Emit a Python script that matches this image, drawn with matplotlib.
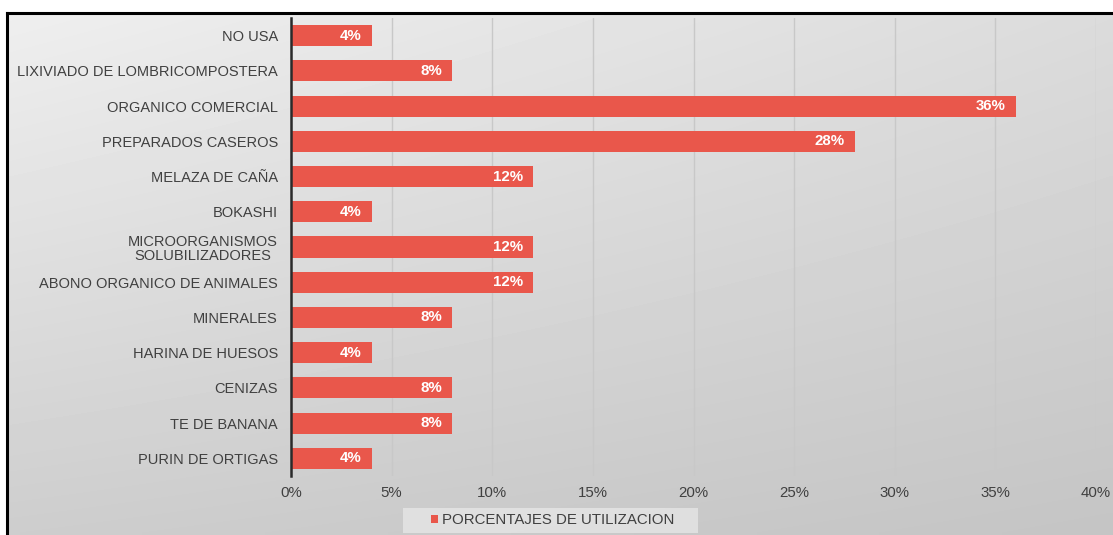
import numpy as np
import matplotlib.pyplot as plt
from matplotlib.patches import Rectangle
from matplotlib.ticker import FuncFormatter

# categories, top to bottom
categorias = ["NO USA", "LIXIVIADO DE LOMBRICOMPOSTERA", "ORGANICO COMERCIAL",
              "PREPARADOS CASEROS", "MELAZA DE CAÑA", "BOKASHI",
              "MICROORGANISMOS\nSOLUBILIZADORES", "ABONO ORGANICO DE ANIMALES",
              "MINERALES", "HARINA DE HUESOS", "CENIZAS", "TE DE BANANA",
              "PURIN DE ORTIGAS"]
porcentajes = [4, 8, 36, 28, 12, 4, 12, 12, 8, 4, 8, 8, 4]
ticks = [0, 5, 10, 15, 20, 25, 30, 35, 40]
serie = "PORCENTAJES DE UTILIZACION"

rojo = "#E9574B"
gris_texto = "#404040"
plt.rcParams['font.family'] = ['Liberation Sans', 'DejaVu Sans']

W, H = 1113, 535
fig = plt.figure(figsize=(W / 100, H / 100), dpi=100)

# gray gradient background inside the frame
bg = fig.add_axes([7 / W, 0, 1 - 7 / W, 1 - 13 / H])
xx, yy = np.meshgrid(np.linspace(0, 1, 200), np.linspace(0, 1, 100))
shade = 0.935 - 0.075 * xx - 0.13 * yy + 0.04 * xx * yy
bg.imshow(shade, cmap='gray', vmin=0, vmax=1, aspect='auto',
          extent=[0, 1, 1, 0], interpolation='bilinear')
bg.set_xlim(0, 1)
bg.set_ylim(1, 0)
bg.set_xticks([])
bg.set_yticks([])
for s in ['right', 'bottom']:
    bg.spines[s].set_visible(False)
for s in ['left', 'top']:
    bg.spines[s].set_linewidth(2.2)
    bg.spines[s].set_color('black')

ax = fig.add_axes([291 / W, 1 - 476 / H, (1096 - 291) / W, (476 - 18) / H])
ax.patch.set_alpha(0)
y = np.arange(len(categorias))
bars = ax.barh(y, porcentajes, height=0.6, color=rojo, label=serie, zorder=3)
ax.set_ylim(len(categorias) - 0.5, -0.5)
ax.set_xlim(0, 40)
ax.set_xticks(ticks)
ax.xaxis.set_major_formatter(FuncFormatter(lambda v, p: f"{v:.0f}%"))
ax.set_yticks(y)
ax.set_yticklabels(categorias, fontsize=10.5, color=gris_texto,
                   multialignment='center', linespacing=1.05)
ax.tick_params(axis='x', length=0, pad=7, labelsize=10.8, labelcolor=gris_texto)
ax.tick_params(axis='y', length=0, pad=9.5)
ax.grid(axis='x', color='#c8c8c8', linewidth=1, zorder=0)
for s in ['top', 'right', 'bottom']:
    ax.spines[s].set_visible(False)
ax.spines['left'].set_color('#2a2a2a')
ax.spines['left'].set_linewidth(1.8)
ax.spines['left'].set_zorder(4)

for b, v in zip(bars, porcentajes):
    ax.annotate(f"{v}%", (v, b.get_y() + b.get_height() / 2),
                xytext=(-7, 0), textcoords='offset points',
                ha='right', va='center', color='white',
                fontsize=10.8, fontweight='bold', zorder=5)

# legend box at the bottom
fig.add_artist(Rectangle((403 / W, 1 - 533 / H), (698 - 403) / W, 25 / H,
                         transform=fig.transFigure, facecolor='#e4e4e4',
                         edgecolor='none', alpha=0.85, zorder=1))
leg = fig.legend(loc='center', bbox_to_anchor=(553 / W, 1 - 520 / H),
                 frameon=False, fontsize=10.8, handlelength=0.45,
                 handleheight=0.45, handletextpad=0.3, borderpad=0.2)
for t in leg.get_texts():
    t.set_color(gris_texto)

fig.savefig("out.png", dpi=100)
